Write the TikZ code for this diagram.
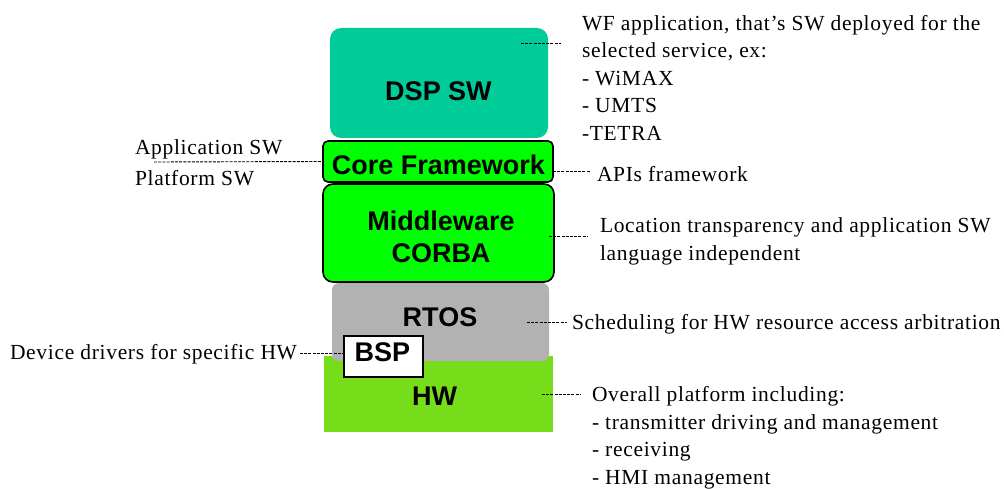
\documentclass[tikz,border=0pt]{standalone}
\usepackage{fontspec}
\setmainfont{Liberation Serif}[LetterSpace=3.2]
\newfontfamily\blockfont{Liberation Sans}
\definecolor{dspteal}{RGB}{0,204,153}
\definecolor{swgreen}{RGB}{0,255,0}
\definecolor{osgray}{RGB}{178,178,178}
\definecolor{hwgreen}{RGB}{119,221,26}
\tikzset{
  layer/.style={inner sep=0pt, outer sep=0pt},
  blocktext/.style={inner sep=0pt, font=\blockfont\bfseries\fontsize{27}{32}\selectfont, align=center},
  note/.style={inner sep=0pt, outer sep=0pt, align=left, font=\fontsize{21.5}{27.6}\selectfont},
  leader/.style={line width=0.9pt, dash pattern=on 3pt off 1.2pt}
}
\begin{document}
\begin{tikzpicture}[x=1pt,y=-1pt]
\useasboundingbox (0,0) rectangle (1004,489);

% software/hardware stack
\node[layer, fill=dspteal, rounded corners=11pt, minimum width=218pt, minimum height=110pt] (dsp) at (439,83) {};
\node[layer, fill=swgreen, draw=black, line width=1.6pt, rounded corners=5pt, minimum width=230pt, minimum height=41pt] (core) at (438,161.5) {};
\node[layer, fill=swgreen, draw=black, line width=1.6pt, rounded corners=10pt, minimum width=231pt, minimum height=98pt] (mw) at (438.5,233) {};
\node[layer, fill=hwgreen, minimum width=229pt, minimum height=76pt] (hw) at (438.5,394) {};
\node[layer, fill=osgray, rounded corners=7pt, minimum width=217pt, minimum height=78pt] (rtos) at (440.5,322) {};
\node[layer, fill=white, draw=black, line width=1.4pt, minimum width=79pt, minimum height=41pt] (bsp) at (383.5,356.5) {};

% block labels
\node[blocktext] (dsplbl) at (438.5,91.5) {DSP SW};
\node[blocktext] (corelbl) at (438.5,165) {Core Framework};
\node[blocktext] (mwlbl) at (441,237) {Middleware\\CORBA};
\node[blocktext] (rtoslbl) at (440,317) {RTOS};
\node[blocktext] (hwlbl) at (434.5,396.5) {HW};
\node[blocktext] (bsplbl) at (382.5,352.5) {BSP};

% descriptions
\node[note, anchor=north west] (wf) at (582,15) {WF application, that’s SW deployed for the\\selected service, ex:\\- WiMAX\\- UMTS\\-TETRA};
\node[note, anchor=base west] (apis) at (597,182) {APIs framework};
\node[note, anchor=north west] (loc) at (600,218) {Location transparency and application SW\\language independent};
\node[note, anchor=base west] (sched) at (572,329) {Scheduling for HW resource access arbitration};
\node[note, anchor=north west] (overall) at (592,386.5) {Overall platform including:\\- transmitter driving and management\\- receiving\\- HMI management};
\node[note, anchor=base west] (appsw) at (135,155) {Application SW};
\node[note, anchor=base west] (platsw) at (135,186) {Platform SW};
\node[note, anchor=base west] (devdrv) at (10,359) {Device drivers for specific HW};

% leader ends next to the descriptions
\coordinate (dspEnd) at (561,43);
\coordinate (coreEnd) at (590,171);
\coordinate (mwEnd) at (588,236);
\coordinate (rtosEnd) at (567,322);
\coordinate (hwEnd) at (580,394);
\coordinate (swSplit) at (154,162);
\coordinate (devEnd) at (300,353);

% leaders
\draw[leader] ([shift={(-27,15)}]dsp.north east) -- (dspEnd);
\draw[leader] ([shift={(0,9.5)}]core.east) -- (coreEnd);
\draw[leader] (swSplit) -- (core.west);
\draw[leader] ([shift={(-5,3)}]mw.east) -- (mwEnd);
\draw[leader] ([xshift=-22]rtos.east) -- (rtosEnd);
\draw[leader] ([xshift=-11]hw.east) -- (hwEnd);
\draw[leader] (devEnd) -- ([shift={(0,-3.5)}]bsp.west);
\end{tikzpicture}
\end{document}
